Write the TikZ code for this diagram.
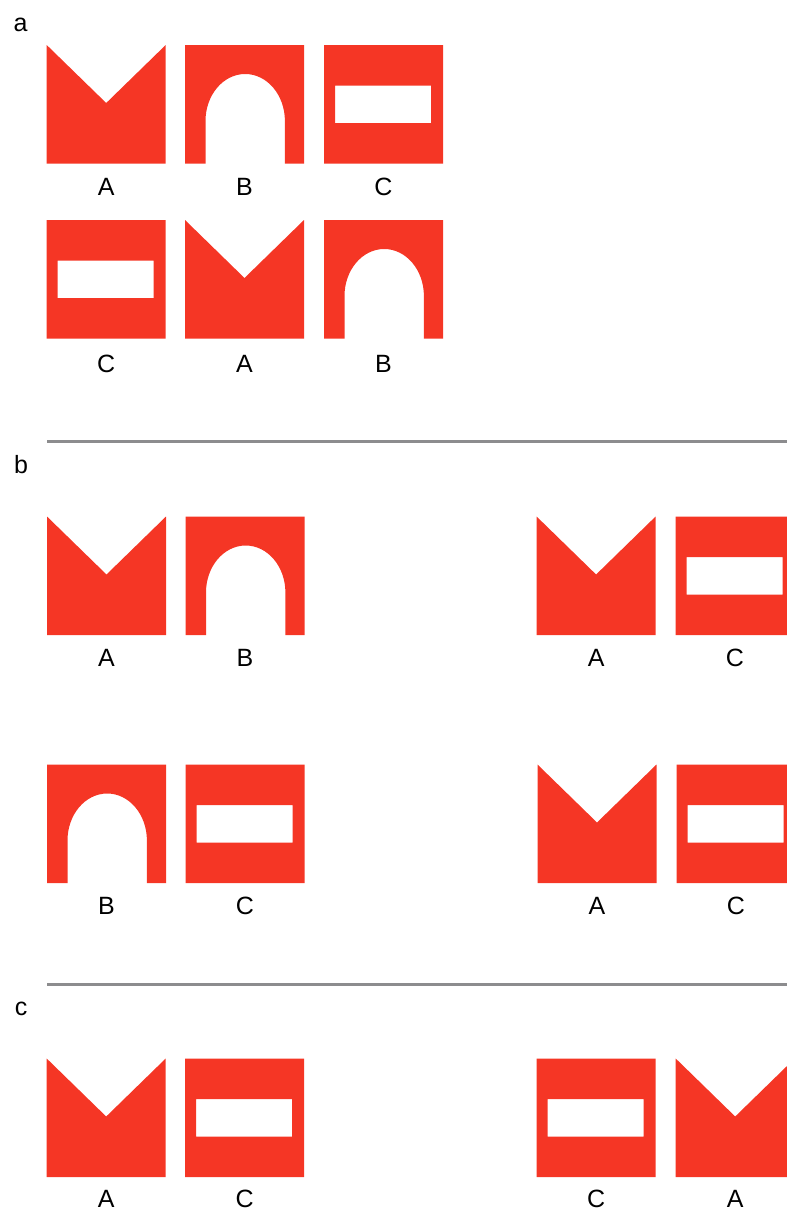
\documentclass[tikz,border=0pt]{standalone}
\usepackage{fontspec}
\setmainfont{Liberation Sans}
\definecolor{shapered}{RGB}{245,54,37}
\definecolor{rulegray}{RGB}{140,140,142}
\tikzset{
  x=1pt, y=-1pt,
  lbl/.style={anchor=base, inner sep=0pt, font=\fontsize{25}{30}\selectfont},
  sep/.style={draw=rulegray, line width=3pt},
  shapeA/.pic={\fill[shapered] (0,0) -- (59.5,58) -- (119,0) -- (119,118.5) -- (0,118.5) -- cycle;},
  shapeB/.pic={\fill[shapered] (0,0) -- (119,0) -- (119,118.5) -- (99.9,118.5) -- (99.9,76)
      .. controls (99.9,50.04) and (82.2,29) .. (60.2,29)
      .. controls (38.2,29) and (20.5,50.04) .. (20.5,76)
      -- (20.5,118.5) -- (0,118.5) -- cycle;},
  shapeC/.pic={\fill[shapered, even odd rule] (0,0) rectangle (119,118.5) (11,40.5) rectangle (107,78);}
}
\begin{document}
\begin{tikzpicture}
\useasboundingbox (0,0) rectangle (787,1211);
\clip (0,0) rectangle (787,1211);
% panel a
\node[lbl] (la) at (20.5,31) {a};
\pic at (46.7,45) {shapeA};
\pic at (185,45) {shapeB};
\pic at (324,45) {shapeC};
\node[lbl] (a1A) at (106.2,195) {A};
\node[lbl] (a1B) at (244.5,195) {B};
\node[lbl] (a1C) at (383.5,195) {C};
\pic at (46.7,220) {shapeC};
\pic at (185,220) {shapeA};
\pic at (324,220) {shapeB};
\node[lbl] (a2C) at (106.2,372) {C};
\node[lbl] (a2A) at (244.5,372) {A};
\node[lbl] (a2B) at (383.5,372) {B};
% separator 1
\coordinate (s1l) at (47,441);
\coordinate (s1r) at (790,441);
\draw[sep] (s1l) -- (s1r);
% panel b
\node[lbl] (lb) at (21,473) {b};
\pic at (47,516.5) {shapeA};
\pic at (185.5,516.5) {shapeB};
\pic at (536.6,516.5) {shapeA};
\pic at (675.5,516.5) {shapeC};
\node[lbl] (b1A) at (106.5,666) {A};
\node[lbl] (b1B) at (245,666) {B};
\node[lbl] (b1A2) at (596.1,666) {A};
\node[lbl] (b1C) at (735,666) {C};
\pic at (47,764.5) {shapeB};
\pic at (185.5,764.5) {shapeC};
\pic at (537.5,764.5) {shapeA};
\pic at (676.5,764.5) {shapeC};
\node[lbl] (b2B) at (106.5,914) {B};
\node[lbl] (b2C) at (245,914) {C};
\node[lbl] (b2A) at (597,914) {A};
\node[lbl] (b2C2) at (736,914) {C};
% separator 2
\coordinate (s2l) at (47,984);
\coordinate (s2r) at (790,984);
\draw[sep] (s2l) -- (s2r);
% panel c
\node[lbl] (lc) at (21,1015) {c};
\pic at (46.7,1058.5) {shapeA};
\pic at (185.2,1058.5) {shapeC};
\pic at (536.6,1058.5) {shapeC};
\pic at (675.7,1058.5) {shapeA};
\node[lbl] (cA) at (106.2,1207) {A};
\node[lbl] (cC) at (244.7,1207) {C};
\node[lbl] (cC2) at (596.1,1207) {C};
\node[lbl] (cA2) at (735.2,1207) {A};
\end{tikzpicture}
\end{document}
